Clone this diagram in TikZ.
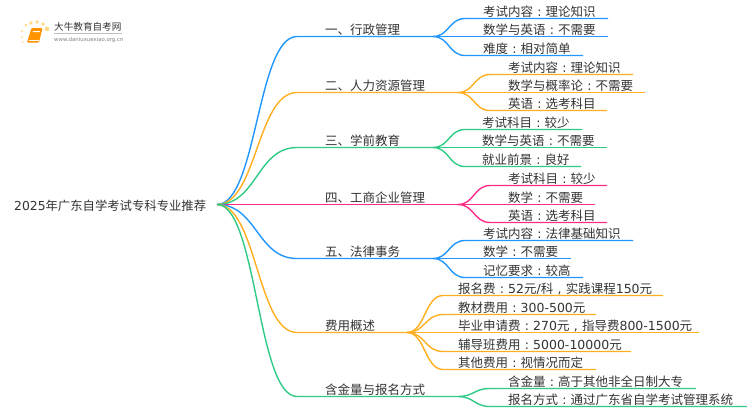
\documentclass[tikz,border=0pt]{standalone}
\usepackage{fontspec}
\setmainfont{Noto Sans CJK SC}
\newfontfamily\latf{DejaVu Sans}
\newcommand{\fcl}{\makebox[1em]{\latf :}}
\newcommand{\fcm}{\makebox[1em]{\latf ,}}
\definecolor{lblue}{HTML}{2196FF}
\definecolor{lorange}{HTML}{FFAE1F}
\definecolor{lgreen}{HTML}{2FCB86}
\definecolor{lpink}{HTML}{FF2D87}
\definecolor{ltext}{HTML}{333333}
\definecolor{ldot}{HTML}{FFD983}
\tikzset{
 txt/.style={inner sep=0pt,anchor=base west,text=ltext,font=\fontsize{12.5}{15}\selectfont},
 branch/.style={line width=1.4pt},
}

\begin{document}
\begin{tikzpicture}[x=1pt,y=-1pt]
 \useasboundingbox (0,0) rectangle (750,410);

 % logo
 \foreach \px/\py/\pr in {47/29/2.3,43/24/1.9,37/22/1.9,31/23/1.8,26/25/1.5,22/31/1.2,22/37/1,23/42/.8}{
  \fill[ldot] (\px,\py) circle (\pr);
 }
 \fill[rounded corners=1pt,orange!85!yellow] (31.5,28) -- (42.5,28) -- (39,42.5) -- (27,42.5) -- cycle;
 \fill[white] (33,31) -- (40,31) -- (39.7,32.2) -- (32.7,32.2) -- cycle;
 \draw[white,line width=.5pt] (28.5,40.5) -- (38.5,40.5);
 \node[inner sep=0pt,anchor=base west,text=ltext,font=\fontsize{9.6}{10}\selectfont] (L1) at (54,30.5) {大牛教育自考网};
 \node[inner sep=0pt,anchor=base west,text=gray,font=\fontsize{5.4}{6}\selectfont\latf] (L2) at (54,41) {www.daniuxuexiao.org.cn};
 \coordinate (L3) at (54,33.5);
 \coordinate (L4) at (122,33.5);
 \draw[gray!50,line width=.5pt] (L3) -- (L4);

 % root
 \node[txt,font=\fontsize{12.35}{15}\selectfont] (R) at (14,210.5) {{\latf 2025}年广东自学考试专科专业推荐};
 \coordinate (R0) at (217,204.5);
 \coordinate (Rm) at (257,204.5);

 % branches
 \foreach \nm/\y/\xj/\col/\txt in {
  A/36.5/433/lblue/{一、行政管理},
  B/92.5/458/lorange/{二、人力资源管理},
  C/147.5/433/lgreen/{三、学前教育},
  D/204.5/458/lpink/{四、工商企业管理},
  E/258.5/433/lblue/{五、法律事务},
  F/332.5/407/lorange/{费用概述},
  G/396.5/458/lgreen/{含金量与报名方式}}{
  \node[txt] (\nm) at (325,\y-1.7) {\txt};
  \coordinate (\nm b) at (297,\y);
  \coordinate (\nm j) at (\xj,\y);
  \draw[branch,\col] (R0) .. controls (Rm) and (Rm |- \nm b) .. (\nm b) -- (\nm j);
 }

 % leaves of each branch
 \foreach \nm/\y/\xe/\txt in {
  A1/18.5/608/{考试内容\fcl 理论知识},
  A2/36.5/608/{数学与英语\fcl 不需要},
  A3/55.5/583/{难度\fcl 相对简单}}{
  \node[txt] (\nm) at (483,\y-1.7) {\txt};
  \coordinate (\nm s) at (465,\y);
  \coordinate (\nm e) at (\xe,\y);
  \coordinate (m) at (449,\y);
  \draw[branch,lblue] (Aj) .. controls (m |- Aj) and (m) .. (\nm s) -- (\nm e);
 }
 \foreach \nm/\y/\xe/\txt in {
  B1/74.5/633/{考试内容\fcl 理论知识},
  B2/92.5/645/{数学与概率论\fcl 不需要},
  B3/110.5/607/{英语\fcl 选考科目}}{
  \node[txt] (\nm) at (508,\y-1.7) {\txt};
  \coordinate (\nm s) at (490,\y);
  \coordinate (\nm e) at (\xe,\y);
  \coordinate (m) at (474,\y);
  \draw[branch,lorange] (Bj) .. controls (m |- Bj) and (m) .. (\nm s) -- (\nm e);
 }
 \foreach \nm/\y/\xe/\txt in {
  C1/129.5/582/{考试科目\fcl 较少},
  C2/147.5/607/{数学与英语\fcl 不需要},
  C3/166.5/581/{就业前景\fcl 良好}}{
  \node[txt] (\nm) at (482,\y-1.7) {\txt};
  \coordinate (\nm s) at (465,\y);
  \coordinate (\nm e) at (\xe,\y);
  \coordinate (m) at (449,\y);
  \draw[branch,lgreen] (Cj) .. controls (m |- Cj) and (m) .. (\nm s) -- (\nm e);
 }
 \foreach \nm/\y/\xe/\txt in {
  D1/185.5/607/{考试科目\fcl 较少},
  D2/204.5/595/{数学\fcl 不需要},
  D3/222.5/607/{英语\fcl 选考科目}}{
  \node[txt] (\nm) at (508,\y-1.7) {\txt};
  \coordinate (\nm s) at (490,\y);
  \coordinate (\nm e) at (\xe,\y);
  \coordinate (m) at (474,\y);
  \draw[branch,lpink] (Dj) .. controls (m |- Dj) and (m) .. (\nm s) -- (\nm e);
 }
 \foreach \nm/\y/\xe/\txt in {
  E1/240.5/633/{考试内容\fcl 法律基础知识},
  E2/258.5/571/{数学\fcl 不需要},
  E3/277.5/583/{记忆要求\fcl 较高}}{
  \node[txt] (\nm) at (483,\y-1.7) {\txt};
  \coordinate (\nm s) at (465,\y);
  \coordinate (\nm e) at (\xe,\y);
  \coordinate (m) at (449,\y);
  \draw[branch,lblue] (Ej) .. controls (m |- Ej) and (m) .. (\nm s) -- (\nm e);
 }
 \foreach \nm/\y/\xe/\txt in {
  F1/295.5/663/{报名费\fcl {\latf 52}元{\latf /}科\fcm 实践课程{\latf 150}元},
  F2/314.5/596/{教材费用\fcl {\latf 300-500}元},
  F3/332.5/699/{毕业申请费\fcl {\latf 270}元\fcm 指导费{\latf 800-1500}元},
  F4/351.5/631/{辅导班费用\fcl {\latf 5000-10000}元},
  F5/369.5/596/{其他费用\fcl 视情况而定}}{
  \node[txt] (\nm) at (458,\y-1.7) {\txt};
  \coordinate (\nm s) at (443,\y);
  \coordinate (\nm e) at (\xe,\y);
  \coordinate (m) at (425,\y);
  \draw[branch,lorange] (Fj) .. controls (m |- Fj) and (m) .. (\nm s) -- (\nm e);
 }
 \foreach \nm/\y/\xe/\txt in {
  G1/388.5/696/{含金量\fcl 高于其他非全日制大专},
  G2/406.5/747/{报名方式\fcl 通过广东省自学考试管理系统}}{
  \node[txt] (\nm) at (508,\y-1.7) {\txt};
  \coordinate (\nm s) at (490,\y);
  \coordinate (\nm e) at (\xe,\y);
  \coordinate (m) at (474,\y);
  \draw[branch,lgreen] (Gj) .. controls (m |- Gj) and (m) .. (\nm s) -- (\nm e);
 }
\end{tikzpicture}
\end{document}
